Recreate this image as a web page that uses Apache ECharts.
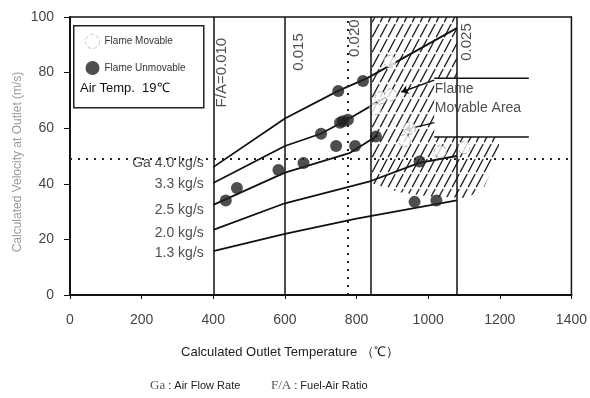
<!DOCTYPE html>
<html>
<head>
<meta charset="utf-8">
<script src="https://cdn.jsdelivr.net/npm/echarts@6/dist/echarts.min.js"></script>
<style>
html, body { margin: 0; padding: 0; background: #fff; overflow: hidden; }
#chart-container { width: 590px; height: 398px; }
</style>
</head>
<body>
<div id="chart-container"></div>
<script>
// temperature (C) vs outlet velocity (m/s) for each air flow rate
var ga40 = [[400, 46], [600, 63.5], [750, 73.5], [830, 78], [1080, 96]];
var ga33 = [[400, 40.3], [600, 53.6], [700, 58], [780, 63.5], [880, 71]];
var ga25 = [[400, 32.4], [600, 44], [780, 51], [860, 57.5]];
var ga20 = [[400, 23.4], [600, 33], [840, 41], [975, 47.5], [1080, 50]];
var ga13 = [[400, 15.8], [600, 22], [800, 27.5], [1080, 34]];
var gaNames = ['Ga 4.0 kg/s', '3.3 kg/s', '2.5 kg/s', '2.0 kg/s', '1.3 kg/s'];

var unmovable = [
    [435, 34], [466, 38.5], [582, 45], [652, 47.5], [701, 58], [743, 53.6],
    [754, 62], [762, 62.5], [776, 63], [796, 53.6], [749, 73.4], [818, 77],
    [854, 57], [976, 48], [962, 33.5], [1023, 34]
];
var movable = [
    [893, 84], [868, 71], [895, 72], [852, 67], [948, 60], [934, 55.5],
    [1034, 51.5], [1100, 53]
];

var faLines = [400, 600, 840, 1080];
var refTemp = 775;
var refVel = 49;

var hatchArea = [
    [840, 100], [1080, 100], [1080, 78], [1017, 78], [1017, 56.8], [1200, 56.8],
    [1195, 50], [1178, 45], [1156, 38.8], [1109, 34.9], [1000, 35.5], [920, 37], [840, 40.3]
];
var boxLines = [[[1017, 78], [1281, 78]], [[1017, 56.8], [1281, 56.8]]];
var leaders = [[[1017, 77.3], [925, 73]], [[1017, 62], [934, 59.4]]];
var faTexts = [
    { name: 'F/A=0.010', value: [424, 80] },
    { name: '0.015', value: [638, 87.4] },
    { name: '0.020', value: [796, 92.4] },
    { name: '0.025', value: [1109, 91] }
];
var areaText = [{ name: 'Flame\nMovable Area', value: [1017, 70.8] }];

var xTicks = { min: 0, max: 1400, interval: 200 };
var yTicks = { min: 0, max: 100, interval: 20 };

// small nudges so the flow-rate labels sit where the scan has them
var gaLabelOffsets = [[0, -4], [0, 1], [0, 5], [0, 3], [0, 2]];

// diagonal hatch pattern
var hatchCanvas = document.createElement('canvas');
hatchCanvas.width = 8;
hatchCanvas.height = 15;
var ctx = hatchCanvas.getContext('2d');
ctx.strokeStyle = '#222';
ctx.lineWidth = 1.3;
ctx.setLineDash([9, 2]);
[-8, 0, 8].forEach(function (s) {
    ctx.beginPath();
    ctx.moveTo(s - 1, 15 + 1.875);
    ctx.lineTo(s + 9, -1.875);
    ctx.stroke();
});

var font = 'Liberation Sans, Arial, sans-serif';
var dom = document.getElementById('chart-container');
var myChart = echarts.init(dom, null, { renderer: 'canvas' });

var gaData = [ga40, ga33, ga25, ga20, ga13];
var gaSeries = gaData.map(function (d) {
    return {
        type: 'line',
        data: d,
        symbol: 'none',
        lineStyle: { color: '#111', width: 1.8 },
        silent: true,
        z: 3
    };
});
var gaLabels = gaData.map(function (d, i) {
    return { name: gaNames[i], value: d[0], label: { offset: gaLabelOffsets[i] } };
});

var option = {
    animation: false,
    grid: { left: 70, right: 13, top: 17, bottom: 103, show: true, borderColor: '#111', borderWidth: 1.5 },
    legend: {
        orient: 'vertical', left: 80, top: 29, itemWidth: 14, itemHeight: 14, itemGap: 12,
        textStyle: { fontSize: 10, color: '#333', fontFamily: font },
        data: [
            { name: 'Flame Movable', icon: 'circle', itemStyle: { color: '#fff', borderColor: '#bbb', borderType: 'dashed', borderWidth: 1 } },
            { name: 'Flame Unmovable', icon: 'circle', itemStyle: { color: '#222' } }
        ],
        z: 6
    },
    xAxis: {
        type: 'value', min: xTicks.min, max: xTicks.max, interval: xTicks.interval,
        axisLine: { lineStyle: { color: '#111', width: 2 } },
        axisTick: { show: true, length: 4, lineStyle: { color: '#111' } },
        axisLabel: { margin: 18, fontSize: 14, color: '#444', fontFamily: font, formatter: function (v) { return String(v); } },
        splitLine: { show: false }
    },
    yAxis: {
        type: 'value', min: yTicks.min, max: yTicks.max, interval: yTicks.interval,
        axisLine: { show: true, lineStyle: { color: '#111', width: 2 } },
        axisTick: { show: true, length: 6, lineStyle: { color: '#111' } },
        axisLabel: { margin: 16, fontSize: 14, color: '#444', fontFamily: font },
        splitLine: { show: false }
    },
    graphic: [
        { type: 'rect', left: 73, top: 25, shape: { width: 130, height: 82 }, style: { fill: '#fff', stroke: '#222', lineWidth: 1.5 }, z: 5 },
        { type: 'text', left: 80, top: 82, style: { text: 'Air Temp.  19℃', fontSize: 13, fill: '#111', fontFamily: font }, z: 6 },
        { type: 'text', x: 18, y: 162, rotation: Math.PI / 2, style: { text: 'Calculated Velocity at Outlet (m/s)', fontSize: 12, fill: '#999', fontFamily: font, align: 'center', verticalAlign: 'middle' } },
        { type: 'text', x: 290, y: 352, style: { text: 'Calculated Outlet Temperature （℃）', fontSize: 13, fill: '#222', fontFamily: font, align: 'center', verticalAlign: 'middle' } },
        {
            type: 'text', x: 150, y: 386,
            style: {
                text: '{s|Ga} : Air Flow Rate          {s|F/A} : Fuel-Air Ratio',
                fontSize: 11, fill: '#222', fontFamily: font, verticalAlign: 'middle',
                rich: { s: { fontFamily: 'Liberation Serif, serif', fontSize: 13, fill: '#555' } }
            }
        }
    ],
    series: [
        {
            type: 'custom',
            coordinateSystem: 'cartesian2d',
            data: [hatchArea[0]],
            silent: true,
            z: 1,
            renderItem: function (params, api) {
                var pts = hatchArea.map(function (p) { return api.coord(p); });
                return {
                    type: 'polygon',
                    shape: { points: pts },
                    style: { fill: { image: hatchCanvas, repeat: 'repeat' }, stroke: 'none' }
                };
            }
        },
        {
            type: 'line',
            data: [],
            silent: true,
            z: 2,
            markLine: {
                silent: true, symbol: 'none', label: { show: false },
                lineStyle: { color: '#111', width: 1.5, type: 'solid' },
                data: faLines.map(function (t) { return { xAxis: t }; })
            }
        },
        {
            type: 'line',
            data: [],
            silent: true,
            z: 2,
            markLine: {
                silent: true, symbol: 'none', label: { show: false },
                lineStyle: { color: '#222', width: 2, type: [2, 6] },
                data: [{ xAxis: refTemp }, { yAxis: refVel }]
            }
        }
    ].concat(gaSeries).concat(boxLines.map(function (seg) {
        return { type: 'line', data: seg, symbol: 'none', silent: true, lineStyle: { color: '#111', width: 1.5 }, z: 3 };
    })).concat(leaders.map(function (seg) {
        return {
            type: 'lines', coordinateSystem: 'cartesian2d', silent: true, z: 3,
            symbol: ['none', 'arrow'], symbolSize: 7,
            lineStyle: { color: '#111', width: 1.5, opacity: 1 },
            data: [{ coords: seg }]
        };
    })).concat([
        {
            name: 'Flame Unmovable', type: 'scatter', data: unmovable, symbol: 'circle', symbolSize: 12,
            itemStyle: { color: '#222' }, z: 4
        },
        {
            name: 'Flame Movable', type: 'scatter', data: movable, symbol: 'circle', symbolSize: 12,
            itemStyle: { color: '#fff', borderColor: '#999', borderType: 'dashed', borderWidth: 1 }, z: 4
        },
        {
            type: 'scatter', data: gaLabels, symbolSize: 1, itemStyle: { color: 'rgba(0,0,0,0)' }, silent: true, z: 5,
            label: { show: true, position: 'left', distance: 9, formatter: '{b}', fontSize: 14, color: '#222', fontFamily: font }
        },
        {
            type: 'scatter', data: faTexts, symbolSize: 1, itemStyle: { color: 'rgba(0,0,0,0)' }, silent: true, z: 5,
            label: { show: true, position: 'inside', rotate: 90, formatter: '{b}', fontSize: 15, color: '#222', fontFamily: font }
        },
        {
            type: 'scatter', data: areaText, symbolSize: 1, itemStyle: { color: 'rgba(0,0,0,0)' }, silent: true, z: 5,
            label: { show: true, position: 'right', distance: 0, formatter: '{b}', fontSize: 14, lineHeight: 19, color: '#222', fontFamily: font, align: 'left' }
        }
    ])
};

if (option && typeof option === 'object') {
    myChart.setOption(option);
}

window.addEventListener('resize', myChart.resize);
</script>
</body>
</html>
